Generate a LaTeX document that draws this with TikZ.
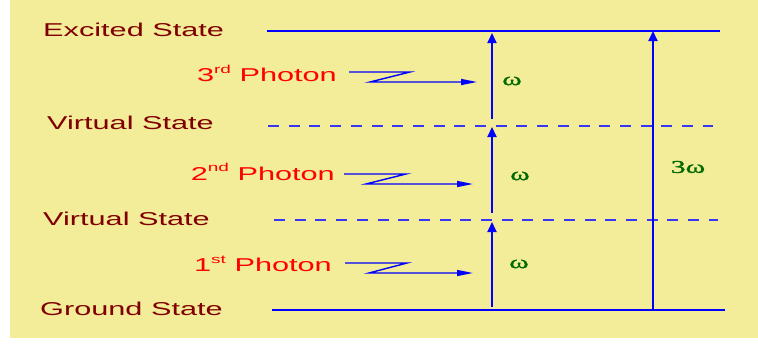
\documentclass[tikz,border=0pt]{standalone}
\usepackage{fontspec}
\usetikzlibrary{arrows.meta}
\newfontfamily\labelfont[FakeStretch=1.65]{Liberation Sans}
\newfontfamily\symfont[FakeStretch=1.65,FakeBold=1.2]{Liberation Serif}
\definecolor{paper}{RGB}{243,236,152}
\definecolor{statered}{RGB}{128,0,0}
\definecolor{photonred}{RGB}{255,0,0}
\definecolor{freqgreen}{RGB}{0,105,0}
\definecolor{levelblue}{RGB}{0,0,255}
\definecolor{dashblue}{RGB}{55,55,245}
\newcommand\ordsup[1]{\raisebox{8.5pt}{\fontsize{11.5}{12}\selectfont #1}}

\begin{document}
\begin{tikzpicture}[x=1pt,y=-1pt,
  statelabel/.style={anchor=base west, inner sep=0pt, text=statered,
    font=\labelfont\fontsize{18.6}{20}\selectfont},
  photonlabel/.style={anchor=base east, inner sep=0pt, text=photonred,
    font=\labelfont\fontsize{18.6}{20}\selectfont},
  freq/.style={inner sep=0pt, text=freqgreen,
    font=\symfont\fontsize{18}{20}\selectfont},
  level/.style={draw=levelblue, line width=1.3pt},
  virtual/.style={draw=dashblue, line width=1.3pt, dash pattern=on 11pt off 9.7pt},
  transition/.style={draw=levelblue, line width=2pt,
    -{Triangle[length=10pt,width=9pt]}},
  photon/.style={draw=levelblue, line width=1.4pt, line join=miter,
    -{Triangle[length=16pt,width=6pt]}}
]
% page and background
\useasboundingbox (0,0) rectangle (758,343);
\fill[paper] (10,0) rectangle (758,338);

% energy levels
\coordinate (exA) at (267,31);  \coordinate (exB) at (720,31);
\coordinate (v2A) at (268,126); \coordinate (v2B) at (713,126);
\coordinate (v1A) at (274,220); \coordinate (v1B) at (718,220);
\coordinate (gA)  at (272,310); \coordinate (gB)  at (725,310);
\draw[level] (exA) -- (exB);
\draw[virtual] (v2A) -- (v2B);
\draw[virtual] (v1A) -- (v1B);
\draw[level] (gA) -- (gB);

% level names
\node[statelabel] (lex) at (43,36)  {Excited State};
\node[statelabel] (lv2) at (47,129) {Virtual State};
\node[statelabel] (lv1) at (43,225) {Virtual State};
\node[statelabel] (lg)  at (40,315) {Ground State};

% incoming photons
\node[photonlabel] (ph3) at (337,81.5) {3\ordsup{rd} Photon};
\node[photonlabel] (ph2) at (335,180)  {2\ordsup{nd} Photon};
\node[photonlabel] (ph1) at (332,271.5){1\ordsup{st} Photon};

\coordinate (z3a) at (349,72);  \coordinate (z3b) at (410,72);
\coordinate (z3c) at (370,82);  \coordinate (z3d) at (477,82);
\coordinate (z2a) at (344,174); \coordinate (z2b) at (406,174);
\coordinate (z2c) at (366,184); \coordinate (z2d) at (473,184);
\coordinate (z1a) at (345,263); \coordinate (z1b) at (407,263);
\coordinate (z1c) at (369,273); \coordinate (z1d) at (473,273);
\draw[photon] (z3a) -- (z3b) -- (z3c) -- (z3d);
\draw[photon] (z2a) -- (z2b) -- (z2c) -- (z2d);
\draw[photon] (z1a) -- (z1b) -- (z1c) -- (z1d);

% single-photon steps
\coordinate (s1a) at (492,307); \coordinate (s1b) at (492,222);
\coordinate (s2a) at (492,213); \coordinate (s2b) at (492,127);
\coordinate (s3a) at (492,119); \coordinate (s3b) at (492,33);
\draw[transition] (s1a) -- (s1b);
\draw[transition] (s2a) -- (s2b);
\draw[transition] (s3a) -- (s3b);

% direct transition
\coordinate (dA) at (653,310); \coordinate (dB) at (653,31);
\draw[transition] (dA) -- (dB);

% frequencies
\node[freq] (w3) at (512,81)  {ω};
\node[freq] (w2) at (520,176) {ω};
\node[freq] (w1) at (519,264) {ω};
\node[freq] (w0) at (688,167) {3ω};
\end{tikzpicture}
\end{document}
